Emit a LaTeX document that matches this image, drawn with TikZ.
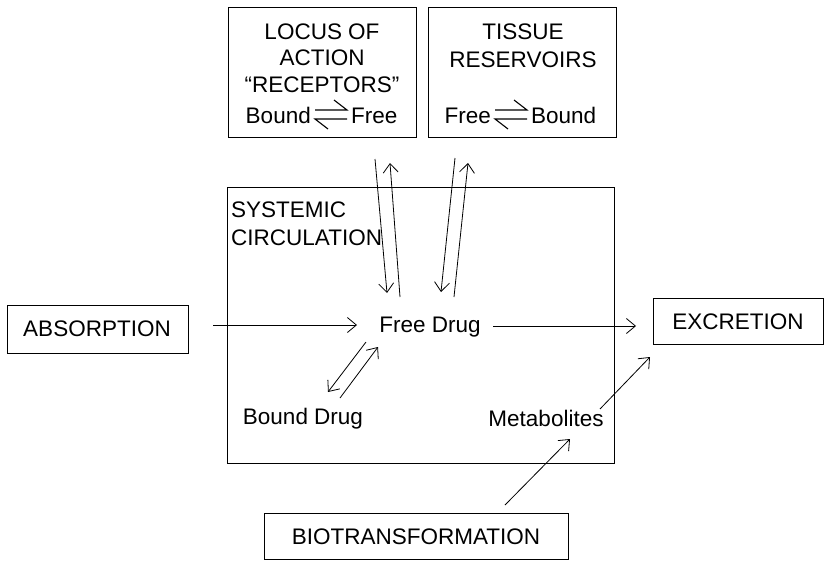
\documentclass[tikz,border=0pt]{standalone}
\usepackage{fontspec}
\setmainfont{Liberation Sans}
\usetikzlibrary{arrows.meta}
\tikzset{
  box/.style={draw, line width=0.9pt, inner sep=0pt},
  lbl/.style={font=\fontsize{22.5}{27}\selectfont, inner sep=0pt, align=center},
  arr/.style={line width=0.8pt, -{Straight Barb[length=9pt,width=15pt,line width=0.8pt]}},
  harp/.style={line width=1.1pt, line join=miter},
}
\begin{document}
\begin{tikzpicture}[x=1pt,y=-1pt]
\useasboundingbox[fill=white] (0,0) rectangle (827,573);
% boxes
\node[box, minimum width=188pt, minimum height=130pt] (locus) at (322,72) {};
\node[box, minimum width=188pt, minimum height=130pt] (tissue) at (522,72) {};
\node[box, minimum width=387pt, minimum height=276pt] (sys) at (420.5,325) {};
\node[box, minimum width=181pt, minimum height=48pt] (absbox) at (97.5,329) {};
\node[box, minimum width=170pt, minimum height=46pt] (excbox) at (738,321) {};
\node[box, minimum width=304pt, minimum height=46pt] (biobox) at (416,536) {};
% texts
\node[lbl] (l1) at (322,32) {LOCUS OF};
\node[lbl] (l2) at (322,58) {ACTION};
\node[lbl] (l3) at (322,85) {``RECEPTORS''};
\node[lbl, anchor=base east] (lb) at (311,123) {Bound};
\node[lbl, anchor=base west] (lf) at (351,123) {Free};
\node[lbl] (t1) at (523,32) {TISSUE};
\node[lbl] (t2) at (523,60) {RESERVOIRS};
\node[lbl, anchor=base east] (tf) at (491,123) {Free};
\node[lbl, anchor=base west] (tb) at (531,123) {Bound};
\node[lbl, anchor=west, align=left] (s1) at (231,210) {SYSTEMIC};
\node[lbl, anchor=west, align=left] (s2) at (231,238) {CIRCULATION};
\node[lbl] (free) at (430,327) {Free Drug};
\node[lbl] (bound) at (303,419) {Bound Drug};
\node[lbl] (meta) at (546,418) {Metabolites};
\node[lbl] (abs) at (97,329) {ABSORPTION};
\node[lbl] (exc) at (738,322) {EXCRETION};
\node[lbl] (bio) at (416,537) {BIOTRANSFORMATION};
% equilibrium harpoons
\coordinate (lh1) at (315,110); \coordinate (lh2) at (347,110);
\coordinate (lh3) at (347,119); \coordinate (lh4) at (315,119);
\draw[harp] (lh1) -- (lh2) -- ++(-13,-10);
\draw[harp] (lh3) -- (lh4) -- ++(13,10);
\coordinate (th1) at (495,110); \coordinate (th2) at (527,110);
\coordinate (th3) at (527,119); \coordinate (th4) at (495,119);
\draw[harp] (th1) -- (th2) -- ++(-13,-10);
\draw[harp] (th3) -- (th4) -- ++(13,10);
% arrow end points
\coordinate (a1) at (213,325);   \coordinate (a2) at (357,325);
\coordinate (e1) at (493,326);   \coordinate (e2) at (636,326);
\coordinate (m1) at (600,409);   \coordinate (m2) at (650,357);
\coordinate (b1) at (505,505);   \coordinate (b2) at (570,439);
\coordinate (fb1) at (366,342);  \coordinate (fb2) at (328,392);
\coordinate (bf1) at (340,398);  \coordinate (bf2) at (378,347);
\coordinate (ld1) at (375,159);  \coordinate (ld2) at (387,293);
\coordinate (lu1) at (400,297);  \coordinate (lu2) at (390,163);
\coordinate (td1) at (455,158);  \coordinate (td2) at (441,292);
\coordinate (tu1) at (454,297);  \coordinate (tu2) at (468,163);
% connectors
\draw[arr] (a1) -- (a2);
\draw[arr] (e1) -- (e2);
\draw[arr] (m1) -- (m2);
\draw[arr] (b1) -- (b2);
\draw[arr] (fb1) -- (fb2);
\draw[arr] (bf1) -- (bf2);
\draw[arr] (ld1) -- (ld2);
\draw[arr] (lu1) -- (lu2);
\draw[arr] (td1) -- (td2);
\draw[arr] (tu1) -- (tu2);
\end{tikzpicture}
\end{document}
